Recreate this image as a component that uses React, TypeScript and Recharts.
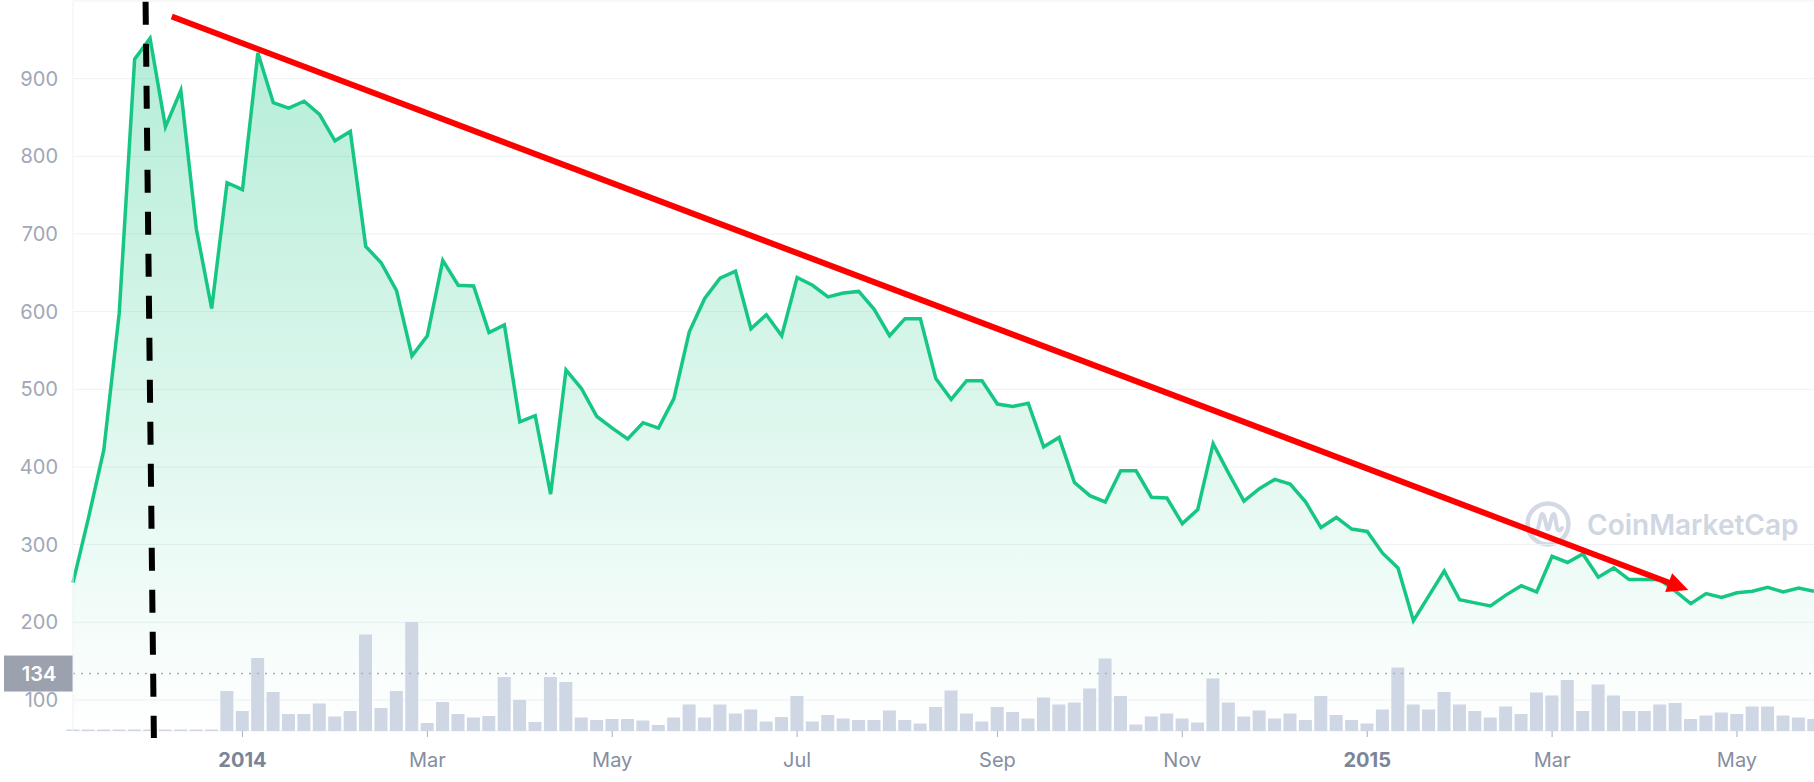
import React from 'react';
import { ComposedChart, Area, Bar, XAxis, YAxis, CartesianGrid, ReferenceLine } from 'recharts';

// BTC price, one reading every 5 days, 7 Nov 2013 .. 26 May 2015
const PRICES = [
  251, 334, 422, 598, 925, 952, 838, 885, 707, 604,
  766, 757, 933, 869, 862, 871, 854, 820, 832, 684,
  663, 627, 543, 569, 666, 634, 633, 573, 583, 458,
  466, 365, 525, 501, 465, 450, 436, 457, 450, 488,
  574, 617, 643, 652, 578, 596, 569, 644, 634, 619,
  624, 626, 603, 569, 591, 591, 514, 487, 511, 511,
  481, 478, 482, 426, 438, 380, 363, 355, 395, 395,
  361, 360, 327, 345, 430, 392, 356, 372, 384, 378,
  355, 322, 335, 320, 317, 289, 270, 202, 234, 266,
  229, 225, 221, 235, 247, 239, 285, 277, 288, 258,
  270, 255, 255, 255, 240, 224, 237, 232, 238, 240,
  245, 239, 244, 240,
];

// traded volume for the same readings (relative units)
const VOLUMES = [
  3, 3, 3, 3, 3, 3, 3, 3, 3, 3,
  80, 40, 146, 78, 34, 34, 55, 29, 40, 193,
  46, 80, 218, 16, 58, 34, 27, 30, 108, 62,
  18, 108, 98, 27, 22, 24, 24, 21, 12, 27,
  53, 27, 53, 35, 43, 19, 28, 70, 19, 32,
  25, 22, 22, 41, 22, 15, 48, 81, 35, 19,
  48, 38, 25, 67, 53, 57, 85, 145, 70, 13,
  29, 35, 25, 17, 105, 57, 29, 41, 25, 35,
  22, 70, 32, 22, 15, 43, 127, 53, 43, 78,
  53, 40, 27, 49, 34, 77, 71, 102, 40, 93,
  71, 40, 40, 53, 56, 24, 31, 37, 34, 49,
  49, 31, 27, 24,
];

// reading index closest to the first day of each labelled month
const TICK_IDX = [11, 23, 35, 47, 60, 72, 84, 96, 108];
const TICK_LABELS = ['2014', 'Mar', 'May', 'Jul', 'Sep', 'Nov', '2015', 'Mar', 'May'];
const PRICE_TICKS = [100, 200, 300, 400, 500, 600, 700, 800, 900];
const CURRENT_PRICE = 134;

// hand drawn annotations (index, price)
const PEAK_MARK = [{ x: 4.71, y: 999 }, { x: 5.25, y: 51 }];
const TREND = [{ x: 6.41, y: 980 }, { x: 104.84, y: 241.6 }];

const FONT = 'Inter, "Noto Sans", sans-serif';

const data = PRICES.map((price, idx) => ({ idx, price, volume: VOLUMES[idx] }));

const XTick = ({ x, y, payload }: any) => {
  const label = TICK_LABELS[TICK_IDX.indexOf(payload.value)];
  const isYear = /^\d{4}$/.test(label);
  return (
    <text
      x={x}
      y={y}
      dy={30}
      textAnchor="middle"
      fill={isYear ? '#7b8597' : '#858ea1'}
      fontSize={20}
      fontWeight={isYear ? 700 : 400}
      fontFamily={FONT}
    >
      {label}
    </text>
  );
};

const PriceTag = ({ viewBox }: any) => {
  const { x, y } = viewBox;
  return (
    <g>
      <rect x={x - 69} y={y - 18} width={69} height={36} fill="#9ba1ad" />
      <text x={x - 34} y={y} dy={7.5} textAnchor="middle" fill="#ffffff" fontSize={20} fontWeight={600} fontFamily={FONT}>
        {CURRENT_PRICE}
      </text>
    </g>
  );
};

const ArrowShape = (p: any) => {
  const { x1, y1, x2, y2 } = p;
  const dx = x2 - x1;
  const dy = y2 - y1;
  const len = Math.hypot(dx, dy);
  const ux = dx / len;
  const uy = dy / len;
  const head = 21;
  const half = 10;
  const bx = x2 - ux * head;
  const by = y2 - uy * head;
  return (
    <g>
      <line x1={x1} y1={y1} x2={bx + ux * 2} y2={by + uy * 2} stroke="#ff0000" strokeWidth={6} />
      <polygon
        points={`${x2},${y2} ${bx - uy * half},${by + ux * half} ${bx + uy * half},${by - ux * half}`}
        fill="#ff0000"
      />
    </g>
  );
};

const Watermark = () => (
  <svg width={1814} height={782} style={{ position: 'absolute', left: 0, top: 0 }}>
    <circle cx={1548} cy={524} r={20.5} fill="none" stroke="#d3d9e4" strokeWidth={4.5} />
    <path
      d="M1537,533 L1541,516 Q1542,512 1544,516 L1547,528 Q1548,531 1549,528 L1552,516 Q1554,512 1555,516 L1557,528 Q1559,533 1562,528"
      fill="none"
      stroke="#d3d9e4"
      strokeWidth={4}
      strokeLinecap="round"
      strokeLinejoin="round"
    />
    <text x={1587} y={535} fontSize={28} fontWeight={600} fill="#d0d6e2" fontFamily={FONT}>
      CoinMarketCap
    </text>
  </svg>
);

export default function App() {
  return (
    <div style={{ position: 'absolute', left: 0, top: 0, width: 1814, height: 782, background: '#ffffff', fontFamily: FONT }}>
      <Watermark />
      <div style={{ position: 'absolute', left: 0, top: 0 }}>
        <ComposedChart width={1814} height={782} data={data} margin={{ top: 1, right: 0, bottom: 0, left: 0 }}>
          <defs>
            <linearGradient id="priceFill" x1="0" y1="0" x2="0" y2="1">
              <stop offset="0%" stopColor="#16c784" stopOpacity={0.32} />
              <stop offset="100%" stopColor="#16c784" stopOpacity={0} />
            </linearGradient>
          </defs>
          <CartesianGrid vertical={false} stroke="#eef1f5" />
          <XAxis
            type="number"
            dataKey="idx"
            domain={[0, 113]}
            ticks={TICK_IDX}
            interval={0}
            height={51}
            axisLine={false}
            tickLine={{ stroke: '#a8afbe' }}
            tickSize={6}
            tickMargin={0}
            tick={<XTick />}
          />
          <YAxis
            domain={[60, 1000]}
            ticks={PRICE_TICKS}
            width={73}
            axisLine={{ stroke: '#eef1f5' }}
            tickLine={false}
            tickSize={0}
            tickMargin={15}
            tick={{ fill: '#a0a7b6', fontSize: 20, fontFamily: FONT }}
          />
          <YAxis yAxisId="vol" hide domain={[0, 1460]} />
          <Area
            type="linear"
            dataKey="price"
            stroke="#16c784"
            strokeWidth={3.5}
            fill="url(#priceFill)"
            fillOpacity={1}
            dot={false}
            activeDot={false}
            isAnimationActive={false}
          />
          <Bar yAxisId="vol" dataKey="volume" fill="#cfd6e4" barSize={13} isAnimationActive={false} />
          <ReferenceLine y={CURRENT_PRICE} stroke="#a9b1c0" strokeWidth={1.5} strokeDasharray="2 6" label={PriceTag} />
          <ReferenceLine segment={PEAK_MARK} stroke="#000000" strokeWidth={6} strokeDasharray="23 19" ifOverflow="visible" />
          <ReferenceLine segment={TREND} ifOverflow="visible" shape={ArrowShape} />
        </ComposedChart>
      </div>
    </div>
  );
}
